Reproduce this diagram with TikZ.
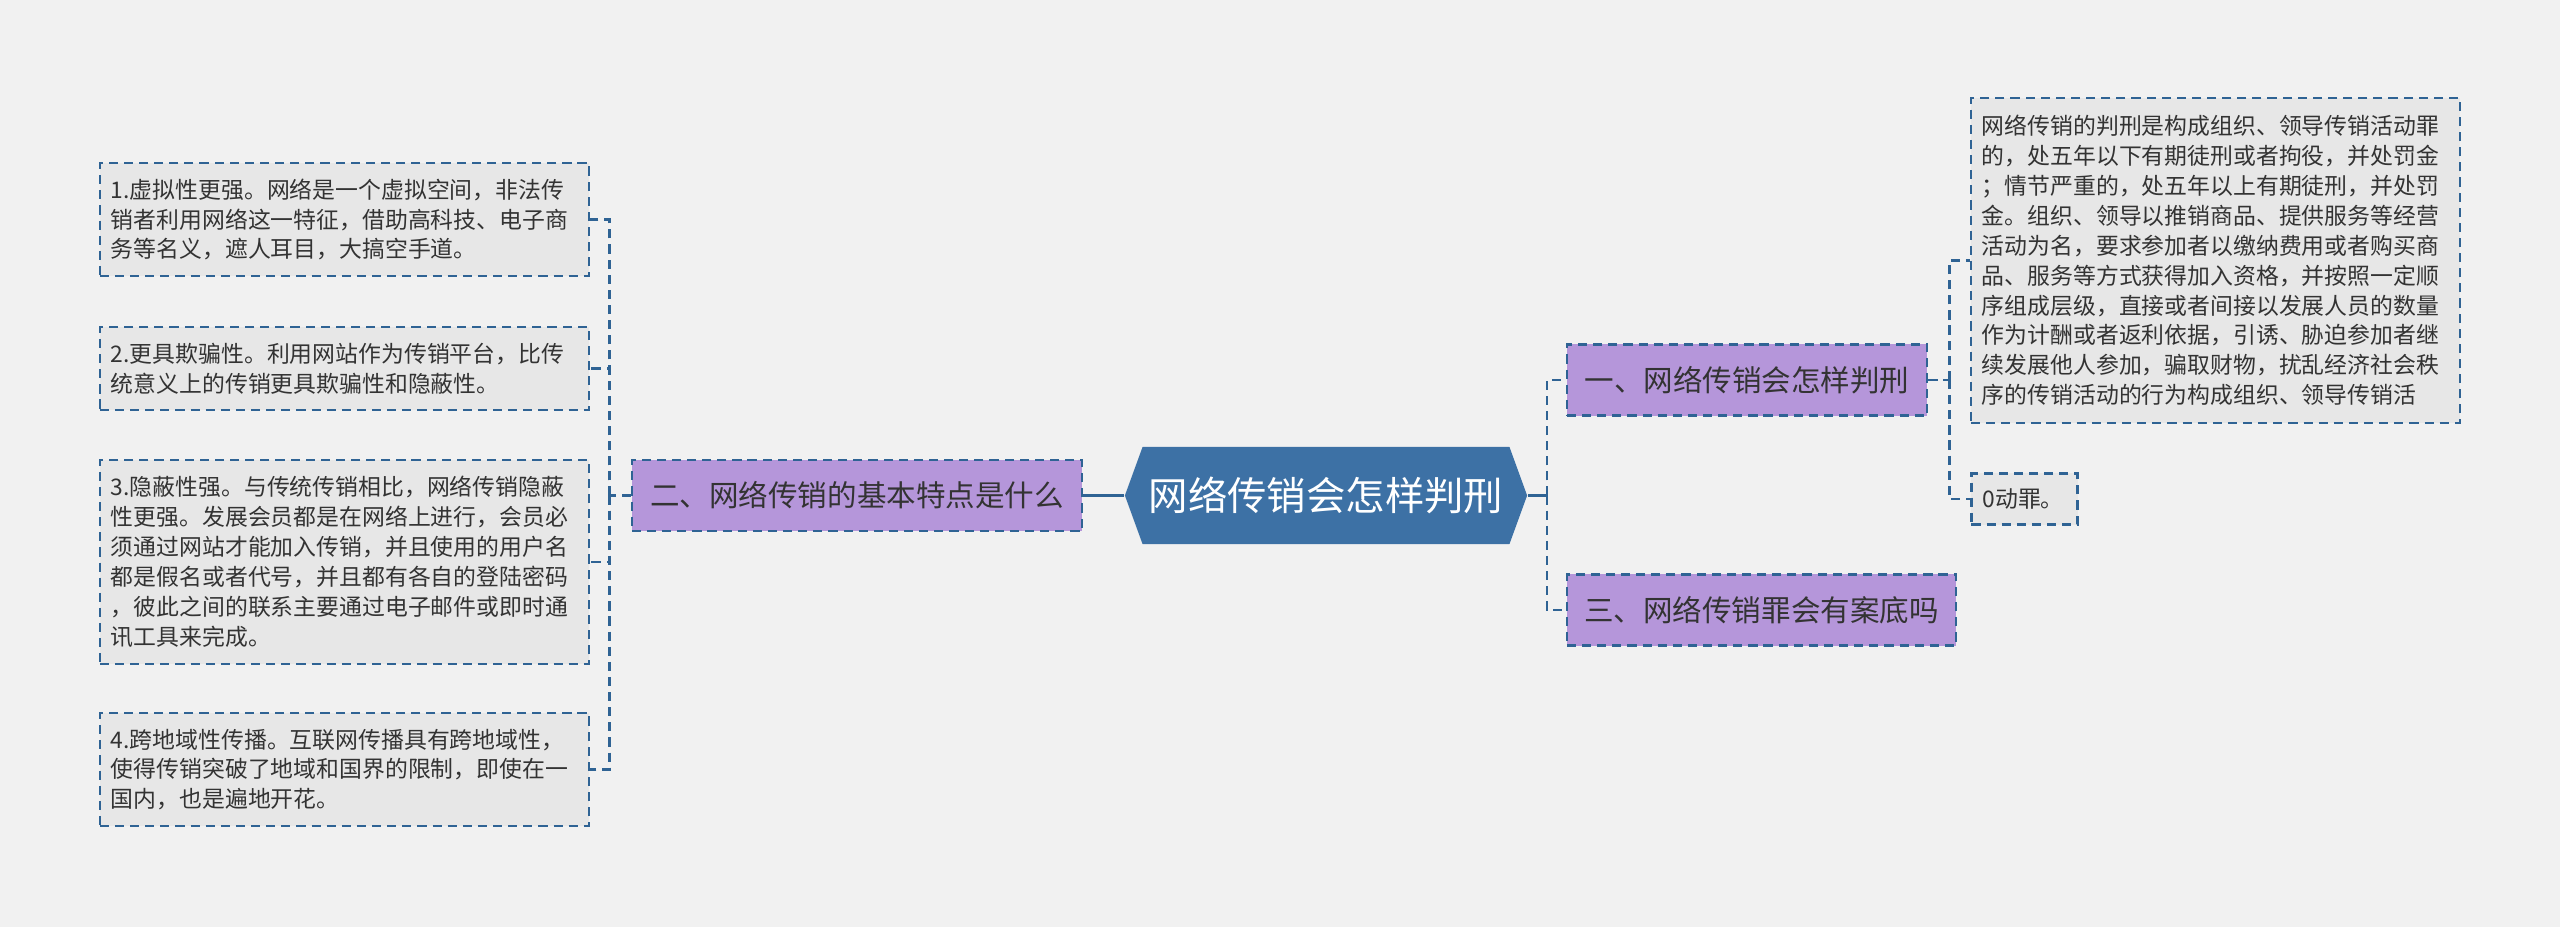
\documentclass[tikz,border=0pt]{standalone}
\usepackage{fontspec}
\setmainfont{Noto Sans CJK SC}
\usepackage{xcolor}
\definecolor{linkblue}{HTML}{2F6394}
\definecolor{rootblue}{HTML}{3D71A5}
\definecolor{branchpurple}{HTML}{B596DA}
\definecolor{leafgray}{HTML}{E7E7E7}
\definecolor{pagebg}{HTML}{F1F1F1}
\definecolor{inktext}{HTML}{333333}
\usetikzlibrary{shapes.symbols,positioning,calc}

\begin{document}
\begin{tikzpicture}[x=0.01cm,y=0.01cm,
  root/.style={signal,signal to=west and east,signal pointer angle=140,
               fill=rootblue,text=white,inner sep=0pt,
               minimum width=4.02cm,minimum height=0.97cm,
               font=\fontsize{11.2}{13}\selectfont},
  branch/.style={draw=linkblue,line width=0.7pt,dash pattern=on 2.6pt off 1.7pt,
                 fill=branchpurple,text=inktext,minimum height=0.71cm,
                 inner xsep=0.14cm,font=\fontsize{8.4}{10}\selectfont},
  leaf/.style={draw=linkblue,line width=0.7pt,dash pattern=on 2.6pt off 1.7pt,
               fill=leafgray,text=inktext,align=left,inner xsep=0.11cm,inner ysep=0pt,
               font=\fontsize{6.5}{8.5}\selectfont},
  link/.style={draw=linkblue,line width=0.7pt,dash pattern=on 2.6pt off 1.7pt},
  trunk/.style={draw=linkblue,line width=0.8pt}
]
\fill[pagebg] (0,0) rectangle (2560,-927);

% centre
\node[root] (hex) at (1326,-495.5) {网络传销会怎样判刑};

% left side
\node[branch,minimum width=4.50cm] (b2) at (857,-495.5) {二、网络传销的基本特点是什么};
\node[leaf,text width=4.67cm,minimum height=1.13cm] (l1) at (344.5,-219.5)
  {1.虚拟性更强。网络是一个虚拟空间，非法传\\销者利用网络这一特征，借助高科技、电子商\\务等名义，遮人耳目，大搞空手道。};
\node[leaf,text width=4.67cm,minimum height=0.83cm] (l2) at (344.5,-368.5)
  {2.更具欺骗性。利用网站作为传销平台，比传\\统意义上的传销更具欺骗性和隐蔽性。};
\node[leaf,text width=4.67cm,minimum height=2.04cm] (l3) at (344.5,-562)
  {3.隐蔽性强。与传统传销相比，网络传销隐蔽\\性更强。发展会员都是在网络上进行，会员必\\须通过网站才能加入传销，并且使用的用户名\\都是假名或者代号，并且都有各自的登陆密码\\，彼此之间的联系主要通过电子邮件或即时通\\讯工具来完成。};
\node[leaf,text width=4.67cm,minimum height=1.13cm] (l4) at (344.5,-769.5)
  {4.跨地域性传播。互联网传播具有跨地域性，\\使得传销突破了地域和国界的限制，即使在一\\国内，也是遍地开花。};

% right side
\node[branch,minimum width=3.60cm] (r1) at (1747,-380) {一、网络传销会怎样判刑};
\node[branch,minimum width=3.89cm] (r3) at (1761.5,-610) {三、网络传销罪会有案底吗};
\node[leaf,text width=4.67cm,minimum height=3.25cm] (r1a) at (2215.5,-260.5)
  {网络传销的判刑是构成组织、领导传销活动罪\\的，处五年以下有期徒刑或者拘役，并处罚金\\；情节严重的，处五年以上有期徒刑，并处罚\\金。组织、领导以推销商品、提供服务等经营\\活动为名，要求参加者以缴纳费用或者购买商\\品、服务等方式获得加入资格，并按照一定顺\\序组成层级，直接或者间接以发展人员的数量\\作为计酬或者返利依据，引诱、胁迫参加者继\\续发展他人参加，骗取财物，扰乱经济社会秩\\序的传销活动的行为构成组织、领导传销活};
\node[leaf,text width=0.84cm,minimum height=0.51cm] (r1b) at (2024.5,-499) {0动罪。};

% connectors
\draw[trunk] (hex.west) -- (b2.east);
\coordinate (lbar) at ($(b2.west)+(-21,0)$);
\draw[link] (b2.west) -- (lbar);
\foreach \leafname in {l1,l2,l3,l4}
  \draw[link] (lbar) |- (\leafname.east);

\coordinate (rbar) at ($(hex.east)+(19,0)$);
\draw[trunk] (hex.east) -- (rbar);
\draw[link] (rbar) |- (r1.west);
\draw[link] (rbar) |- (r3.west);

\coordinate (r1bar) at ($(r1.east)+(21,0)$);
\draw[link] (r1.east) -- (r1bar);
\draw[link] (r1bar) |- (r1a.west);
\draw[link] (r1bar) |- (r1b.west);
\end{tikzpicture}
\end{document}
